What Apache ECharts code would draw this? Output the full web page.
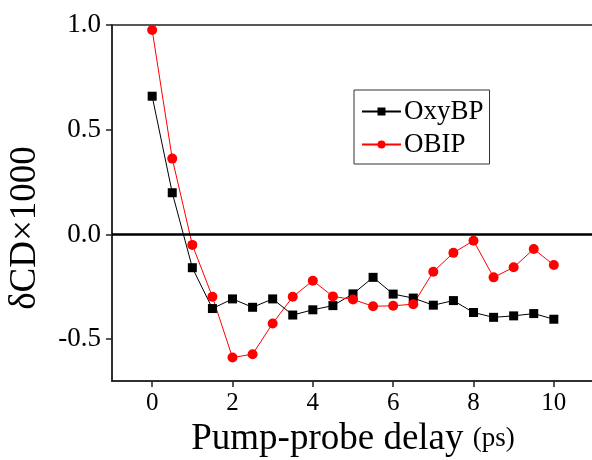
<!DOCTYPE html>
<html>
<head>
<meta charset="utf-8">
<script src="https://cdn.jsdelivr.net/npm/echarts@6/dist/echarts.min.js"></script>
<style>
html,body{margin:0;padding:0;background:#fff;}
#chart{width:592px;height:460px;}
</style>
</head>
<body>
<div id="chart"></div>
<script>
var delays = [0,0.5,1,1.5,2,2.5,3,3.5,4,4.5,5,5.5,6,6.5,7,7.5,8,8.5,9,9.5,10];
var oxyBP = [0.66,0.199,-0.159,-0.354,-0.308,-0.348,-0.308,-0.385,-0.36,-0.34,-0.284,-0.205,-0.285,-0.304,-0.338,-0.316,-0.373,-0.396,-0.389,-0.378,-0.405];
var obip = [0.976,0.362,-0.05,-0.298,-0.588,-0.572,-0.425,-0.298,-0.221,-0.296,-0.311,-0.343,-0.341,-0.333,-0.178,-0.088,-0.03,-0.205,-0.157,-0.07,-0.146];
var xMajorTicks = [0,2,4,6,8,10];
var yMajorTicks = [-0.5,0,0.5,1.0];

var FONT = '"Liberation Serif","Times New Roman",serif';
var LFONT = 'Liberation Serif';
var AX = '#222';

function pairs(xs, ys){ return xs.map(function(x,i){ return [x, ys[i]]; }); }
function isIn(list, v){ for (var i=0;i<list.length;i++){ if (Math.abs(list[i]-v) < 1e-6) return true; } return false; }

var chart = echarts.init(document.getElementById('chart'), null, {renderer:'canvas'});
chart.setOption({
  animation:false,
  backgroundColor:'#fff',
  grid:{left:112, right:-2, top:25, bottom:79, containLabel:false, outerBoundsMode:'none',
        show:true, borderColor:AX, borderWidth:1.5, backgroundColor:'transparent'},
  legend:{
    left:354, top:90, width:138, height:72,
    orient:'vertical',
    padding:[8,6,6,7],
    itemGap:6,
    itemWidth:39, itemHeight:10,
    borderColor:'#333', borderWidth:1,
    textStyle:{fontFamily:FONT, fontSize:27, color:'#000', padding:[0,0,0,-2]},
    data:['OxyBP','OBIP']
  },
  xAxis:{type:'value', min:-1, max:11, interval:1, position:'bottom',
     axisLine:{show:true, onZero:false, lineStyle:{color:AX, width:1.5}},
     axisTick:{show:true, length:6, customValues:xMajorTicks, lineStyle:{color:AX, width:1.5}},
     minorTick:{show:false},
     axisLabel:{show:true, margin:10, showMinLabel:true, showMaxLabel:true,
       formatter:function(v){ return isIn(xMajorTicks, v) ? '{n|' + Math.round(v) + '}' : ''; },
       rich:{n:{fontFamily:LFONT, fontSize:25, color:'#000'}}},
     splitLine:{show:false},
     name:'{a|Pump-probe delay }{b|(ps)}', nameLocation:'middle', nameGap:38,
     nameTextStyle:{rich:{a:{fontFamily:FONT, fontSize:37, color:'#000'}, b:{fontFamily:FONT, fontSize:27, color:'#000'}}}
  },
  yAxis:{type:'value', min:-0.7, max:1.0, interval:0.05, position:'left',
     axisLine:{show:true, onZero:false, lineStyle:{color:AX, width:1.5}},
     axisTick:{show:true, length:6, customValues:yMajorTicks, lineStyle:{color:AX, width:1.5}},
     minorTick:{show:false},
     axisLabel:{show:true, margin:11,
       formatter:function(v){ return isIn(yMajorTicks, v) ? '{n|' + (Math.round(v*10)/10).toFixed(1) + '}' : ''; },
       rich:{n:{fontFamily:LFONT, fontSize:27, color:'#000'}}},
     splitLine:{show:false},
     name:'δCD×1000', nameLocation:'middle', nameGap:68, nameRotate:90,
     nameTextStyle:{fontFamily:FONT, fontSize:37, color:'#000', padding:[0,50,0,0]}
  },
  series:[
    {name:'OxyBP', type:'line',
     data:pairs(delays, oxyBP),
     symbol:'rect', symbolSize:9,
     lineStyle:{color:'#000', width:1},
     itemStyle:{color:'#000'},
     markLine:{silent:true, symbol:'none', label:{show:false},
       lineStyle:{color:'#000', width:2.5, type:'solid'},
       data:[{yAxis:0}]}
    },
    {name:'OBIP', type:'line',
     data:pairs(delays, obip),
     symbol:'circle', symbolSize:10,
     lineStyle:{color:'#ff0000', width:1},
     itemStyle:{color:'#ff0000'}
    }
  ]
});
</script>
</body>
</html>
